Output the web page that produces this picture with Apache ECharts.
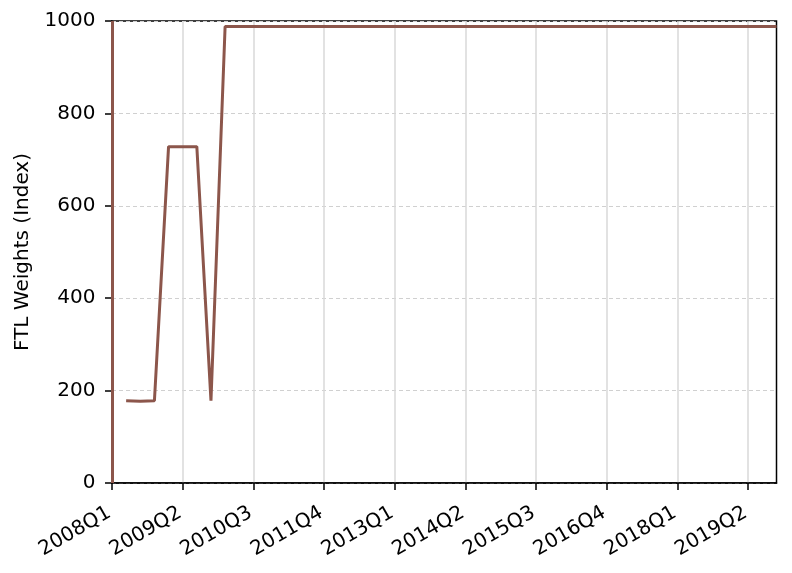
<!DOCTYPE html>
<html>
<head>
<meta charset="utf-8">
<script src="https://cdn.jsdelivr.net/npm/echarts@6/dist/echarts.min.js"></script>
<style>
html,body{margin:0;padding:0;background:#fff;}
#chart{width:792px;height:573px;}
</style>
</head>
<body>
<div id="chart"></div>
<script>
var categories = [
  '2008Q1','2008Q2','2008Q3','2008Q4',
  '2009Q1','2009Q2','2009Q3','2009Q4',
  '2010Q1','2010Q2','2010Q3','2010Q4',
  '2011Q1','2011Q2','2011Q3','2011Q4',
  '2012Q1','2012Q2','2012Q3','2012Q4',
  '2013Q1','2013Q2','2013Q3','2013Q4',
  '2014Q1','2014Q2','2014Q3','2014Q4',
  '2015Q1','2015Q2','2015Q3','2015Q4',
  '2016Q1','2016Q2','2016Q3','2016Q4',
  '2017Q1','2017Q2','2017Q3','2017Q4',
  '2018Q1','2018Q2','2018Q3','2018Q4',
  '2019Q1','2019Q2','2019Q3','2019Q4'
];
var ftlWeights = [
  null, 178, 177, 178,
  728, 728, 728, 178,
  988, 988, 988, 988,
  988, 988, 988, 988,
  988, 988, 988, 988,
  988, 988, 988, 988,
  988, 988, 988, 988,
  988, 988, 988, 988,
  988, 988, 988, 988,
  988, 988, 988, 988,
  988, 988, 988, 988,
  988, 988, 988, 988
];
var yTicks = [0, 200, 400, 600, 800, 1000];
var markerCategory = '2008Q1';

var font = 'DejaVu Sans';
var fs = 20;
var chart = echarts.init(document.getElementById('chart'), null, {renderer: 'canvas'});
chart.setOption({
  animation: false,
  backgroundColor: '#ffffff',
  grid: {
    left: 112, right: 15.5, top: 21, bottom: 90,
    show: true, borderColor: '#000', borderWidth: 1.5, backgroundColor: 'transparent'
  },
  xAxis: {
    type: 'category',
    data: categories,
    boundaryGap: false,
    axisLine: {show: true, lineStyle: {color: '#000', width: 1.5}},
    axisTick: {show: true, inside: false, length: 7, interval: 4, lineStyle: {color: '#000', width: 1.5}},
    axisLabel: {
      interval: 4, rotate: 30, margin: 27, padding: [0, 3, 0, 0],
      fontFamily: font, fontSize: fs, color: '#000'
    },
    splitLine: {show: true, interval: 4, lineStyle: {color: '#d8d8d8', width: 1.5, type: 'solid'}}
  },
  yAxis: {
    type: 'value',
    min: yTicks[0], max: yTicks[yTicks.length - 1], interval: 200,
    name: 'FTL Weights (Index)',
    nameLocation: 'middle',
    nameGap: 79,
    nameTextStyle: {fontFamily: font, fontSize: fs, color: '#000'},
    axisLine: {show: true, lineStyle: {color: '#000', width: 1.5}},
    axisTick: {show: true, inside: false, length: 7, lineStyle: {color: '#000', width: 1.5}},
    axisLabel: {
      margin: 16.5, fontFamily: font, fontSize: fs, color: '#000',
      formatter: function (v) { return String(v); }
    },
    splitLine: {show: true, lineStyle: {color: '#d0d0d0', width: 1, type: [4, 3]}}
  },
  series: [{
    type: 'line',
    data: ftlWeights,
    showSymbol: false,
    connectNulls: false,
    lineStyle: {color: '#8c564b', width: 3},
    itemStyle: {color: '#8c564b'},
    markLine: {
      silent: true,
      symbol: 'none',
      label: {show: false},
      lineStyle: {color: '#8c564b', width: 3, type: 'solid'},
      data: [{xAxis: markerCategory}]
    }
  }]
});
</script>
</body>
</html>
